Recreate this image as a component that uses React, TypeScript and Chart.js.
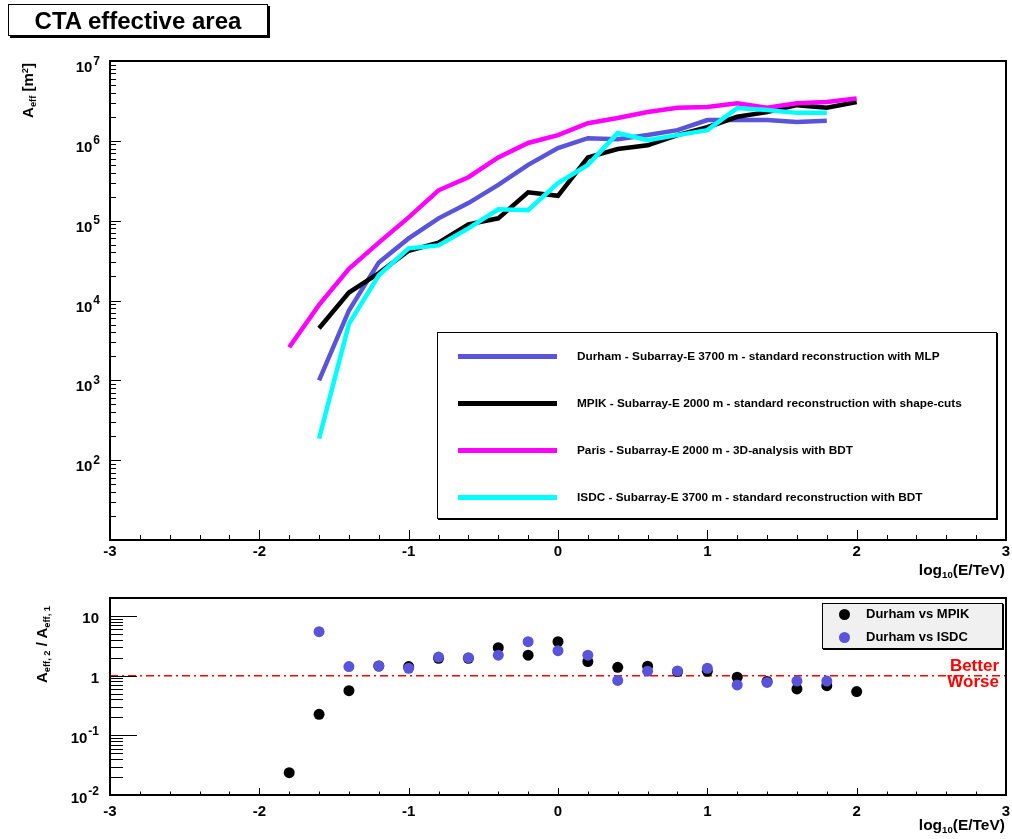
import React, { useEffect, useRef } from 'react';
import { Chart, registerables } from 'chart.js';

Chart.register(...registerables);

const FONT = '"Liberation Sans", Arial, Helvetica, sans-serif';
Chart.defaults.font.family = FONT;

// ---------- Top panel: effective area ----------
const durhamX = [-1.6, -1.4, -1.2, -1.0, -0.8, -0.6, -0.4, -0.2, 0, 0.2, 0.4, 0.6, 0.8, 1.0, 1.2, 1.4, 1.6, 1.8];
const durhamA = [1.0e3, 7.5e3, 3.0e4, 6.0e4, 1.07e5, 1.66e5, 2.8e5, 5.0e5, 8.1e5, 1.08e6, 1.05e6, 1.18e6, 1.36e6, 1.82e6, 1.82e6, 1.82e6, 1.72e6, 1.78e6];

const mpikX = [-1.6, -1.4, -1.2, -1.0, -0.8, -0.6, -0.4, -0.2, 0, 0.2, 0.4, 0.6, 0.8, 1.0, 1.2, 1.4, 1.6, 1.8, 2.0];
const mpikA = [4.5e3, 1.26e4, 2.2e4, 4.2e4, 5.3e4, 9.0e4, 1.07e5, 2.27e5, 2.05e5, 6.2e5, 7.9e5, 8.8e5, 1.18e6, 1.48e6, 2.0e6, 2.29e6, 2.8e6, 2.6e6, 3.06e6];

const parisX = [-1.8, -1.6, -1.4, -1.2, -1.0, -0.8, -0.6, -0.4, -0.2, 0, 0.2, 0.4, 0.6, 0.8, 1.0, 1.2, 1.4, 1.6, 1.8, 2.0];
const parisA = [2.6e3, 8.8e3, 2.5e4, 5.3e4, 1.1e5, 2.4e5, 3.5e5, 6.2e5, 9.4e5, 1.18e6, 1.66e6, 1.93e6, 2.3e6, 2.6e6, 2.65e6, 2.96e6, 2.6e6, 2.96e6, 3.06e6, 3.4e6];

const isdcX = [-1.6, -1.4, -1.2, -1.0, -0.8, -0.6, -0.4, -0.2, 0, 0.2, 0.4, 0.6, 0.8, 1.0, 1.2, 1.4, 1.6, 1.8];
const isdcA = [1.86e2, 5.1e3, 2.07e4, 4.5e4, 4.9e4, 8.0e4, 1.39e5, 1.35e5, 2.95e5, 5.0e5, 1.25e6, 1.02e6, 1.18e6, 1.36e6, 2.57e6, 2.43e6, 2.24e6, 2.24e6];

const seriesLabels = [
  'Durham - Subarray-E 3700 m - standard reconstruction with MLP',
  'MPIK - Subarray-E 2000 m - standard reconstruction with shape-cuts',
  'Paris - Subarray-E 2000 m - 3D-analysis with BDT',
  'ISDC - Subarray-E 3700 m - standard reconstruction with BDT',
];
const seriesColors = ['rgb(89,84,217)', '#000000', '#ff00ff', '#00ffff'];

// ---------- Bottom panel: ratios ----------
const ratioMpikX = [-1.8, -1.6, -1.4, -1.2, -1.0, -0.8, -0.6, -0.4, -0.2, 0, 0.2, 0.4, 0.6, 0.8, 1.0, 1.2, 1.4, 1.6, 1.8, 2.0];
const ratioMpik = [0.0237, 0.225, 0.56, 1.45, 1.42, 1.95, 1.95, 2.94, 2.2, 3.7, 1.72, 1.38, 1.44, 1.17, 1.18, 0.94, 0.8, 0.6, 0.68, 0.54];
const ratioIsdcX = [-1.6, -1.4, -1.2, -1.0, -0.8, -0.6, -0.4, -0.2, 0, 0.2, 0.4, 0.6, 0.8, 1.0, 1.2, 1.4, 1.6, 1.8];
const ratioIsdc = [5.45, 1.42, 1.45, 1.33, 2.05, 2.0, 2.2, 3.7, 2.62, 2.2, 0.83, 1.19, 1.2, 1.33, 0.7, 0.77, 0.81, 0.81];
const ratioLabels = ['Durham vs MPIK', 'Durham vs ISDC'];
const ratioColors = ['#000000', 'rgb(89,84,217)'];
const refLineX = [-3, 3];
const refLineY = [1, 1];

// ---------- Axis ticks ----------
const xTicks = [-3, -2, -1, 0, 1, 2, 3];
const topYTicks = [1e2, 1e3, 1e4, 1e5, 1e6, 1e7];
const topYTickLabels = ['10²', '10³', '10⁴', '10⁵', '10⁶', '10⁷'];
const bottomYTicks = [0.01, 0.1, 1, 10];
const bottomYTickLabels = ['10⁻²', '10⁻¹', '1', '10'];

const pts = (xs: number[], ys: number[]) => xs.map((x, i) => ({ x, y: ys[i] }));

const SUP: Record<string, string> = { '⁰': '0', '¹': '1', '²': '2', '³': '3', '⁴': '4', '⁵': '5', '⁶': '6', '⁷': '7', '⁸': '8', '⁹': '9', '⁻': '-' };

function framePlugin(cfg: {
  xMaj: number; xMin: number; yMaj: number; yMin: number; dMin: number; dMax: number;
  labelDy: number; labelRight: number;
}) {
  return {
    id: 'rootFrame',
    afterDraw(chart: any) {
      const { ctx, chartArea: a } = chart;
      const xs = chart.scales.x;
      const ys = chart.scales.y;
      ctx.save();
      ctx.strokeStyle = '#000';
      ctx.lineWidth = 1;
      ctx.beginPath();
      for (let i = 0; i <= 30; i++) {
        const v = -3 + i * 0.2;
        const isMaj = i % 5 === 0;
        const px = Math.round(xs.getPixelForValue(v)) + 0.5;
        ctx.moveTo(px, a.bottom);
        ctx.lineTo(px, a.bottom - (isMaj ? cfg.xMaj : cfg.xMin));
      }
      for (let d = cfg.dMin; d <= cfg.dMax; d++) {
        for (let k = 1; k <= 9; k++) {
          const v = k * Math.pow(10, d);
          if (v < ys.min * 0.999 || v > ys.max * 1.001) continue;
          const py = Math.round(ys.getPixelForValue(v)) + 0.5;
          ctx.moveTo(a.left, py);
          ctx.lineTo(a.left + (k === 1 ? cfg.yMaj : cfg.yMin), py);
        }
      }
      ctx.stroke();
      ctx.lineWidth = 2;
      ctx.strokeRect(a.left, a.top, a.right - a.left, a.bottom - a.top);

      // y tick labels (from the scale's own ticks), drawn with raised exponents
      ctx.fillStyle = '#000';
      ctx.textBaseline = 'alphabetic';
      ctx.textAlign = 'left';
      const baseFont = `bold 15px ${FONT}`;
      const expFont = `bold 12px ${FONT}`;
      for (const t of ys.ticks) {
        const label = String(t.label ?? '');
        if (!label) continue;
        let base = '';
        let exp = '';
        for (const ch of label) {
          if (SUP[ch] !== undefined) exp += SUP[ch];
          else base += ch;
        }
        const py = ys.getPixelForValue(t.value);
        const baseline = py + cfg.labelDy;
        ctx.font = baseFont;
        const wb = ctx.measureText(base).width;
        ctx.font = expFont;
        const we = exp ? ctx.measureText(exp).width + 1 : 0;
        const x0 = cfg.labelRight - wb - we;
        ctx.font = baseFont;
        ctx.fillText(base, x0, baseline);
        if (exp) {
          ctx.font = expFont;
          ctx.fillText(exp, x0 + wb + 1, baseline - 7.5);
        }
      }
      ctx.restore();
    },
  };
}

const tickFont = { size: 15, weight: 'bold' as const, family: FONT };

function TopChart() {
  const ref = useRef<HTMLCanvasElement | null>(null);
  useEffect(() => {
    if (!ref.current) return;
    const line = (i: number, xs: number[], ys: number[], order: number) => ({
      label: seriesLabels[i],
      data: pts(xs, ys),
      borderColor: seriesColors[i],
      backgroundColor: seriesColors[i],
      borderWidth: 4.5,
      pointRadius: 0,
      tension: 0,
      fill: false,
      order,
    });
    const chart = new Chart(ref.current, {
      type: 'line',
      data: {
        datasets: [
          line(3, isdcX, isdcA, 0),
          line(2, parisX, parisA, 1),
          line(1, mpikX, mpikA, 2),
          line(0, durhamX, durhamA, 3),
        ],
      },
      options: {
        responsive: false,
        animation: false,
        events: [],
        layout: { padding: { top: 61, right: 6, left: 0, bottom: 0 } },
        plugins: { legend: { display: false }, tooltip: { enabled: false } },
        scales: {
          x: {
            type: 'linear',
            min: -3,
            max: 3,
            afterBuildTicks: (s: any) => { s.ticks = xTicks.map((v) => ({ value: v })); },
            afterFit: (s: any) => { s.height = 40; s.paddingLeft = 0; s.paddingRight = 0; },
            grid: { display: false, drawTicks: false },
            border: { display: false },
            ticks: { font: tickFont, color: '#000', padding: 3, maxRotation: 0, autoSkip: false, callback: (v: any) => String(v) },
          },
          y: {
            type: 'logarithmic',
            min: 10,
            max: 1e7,
            afterBuildTicks: (s: any) => { s.ticks = topYTicks.map((v) => ({ value: v })); },
            afterFit: (s: any) => { s.width = 110; s.paddingTop = 0; s.paddingBottom = 0; },
            grid: { display: false, drawTicks: false },
            border: { display: false },
            ticks: {
              display: false,
              font: tickFont,
              color: '#000',
              padding: 10,
              autoSkip: false,
              callback: (v: any) => topYTickLabels[topYTicks.indexOf(Number(v))] ?? '',
            },
          },
        },
      } as any,
      plugins: [framePlugin({ xMaj: 10, xMin: 5, yMaj: 11, yMin: 6, dMin: 1, dMax: 6, labelDy: 11, labelRight: 100 })],
    });
    return () => chart.destroy();
  }, []);
  return <canvas ref={ref} width={1012} height={580} style={{ position: 'absolute', left: 0, top: 0 }} />;
}

function BottomChart() {
  const ref = useRef<HTMLCanvasElement | null>(null);
  useEffect(() => {
    if (!ref.current) return;
    const chart = new Chart(ref.current, {
      type: 'line',
      data: {
        datasets: [
          {
            label: ratioLabels[1],
            data: pts(ratioIsdcX, ratioIsdc),
            showLine: false,
            pointRadius: 5.5,
            pointBorderWidth: 0,
            pointBackgroundColor: ratioColors[1],
            borderColor: ratioColors[1],
            order: 0,
          },
          {
            label: ratioLabels[0],
            data: pts(ratioMpikX, ratioMpik),
            showLine: false,
            pointRadius: 5.5,
            pointBorderWidth: 0,
            pointBackgroundColor: ratioColors[0],
            borderColor: ratioColors[0],
            order: 1,
          },
          {
            label: 'ratio = 1',
            data: pts(refLineX, refLineY),
            borderColor: '#ff0000',
            borderWidth: 1.5,
            borderDash: [8, 4, 2, 4],
            pointRadius: 0,
            order: 2,
          },
        ],
      },
      options: {
        responsive: false,
        animation: false,
        events: [],
        layout: { padding: { top: 8, right: 6, left: 0, bottom: 0 } },
        plugins: { legend: { display: false }, tooltip: { enabled: false } },
        scales: {
          x: {
            type: 'linear',
            min: -3,
            max: 3,
            afterBuildTicks: (s: any) => { s.ticks = xTicks.map((v) => ({ value: v })); },
            afterFit: (s: any) => { s.height = 44; s.paddingLeft = 0; s.paddingRight = 0; },
            grid: { display: false, drawTicks: false },
            border: { display: false },
            ticks: { font: tickFont, color: '#000', padding: 8, maxRotation: 0, autoSkip: false, callback: (v: any) => String(v) },
          },
          y: {
            type: 'logarithmic',
            min: 0.01,
            max: 20,
            afterBuildTicks: (s: any) => { s.ticks = bottomYTicks.map((v) => ({ value: v })); },
            afterFit: (s: any) => { s.width = 110; s.paddingTop = 0; s.paddingBottom = 0; },
            grid: { display: false, drawTicks: false },
            border: { display: false },
            ticks: {
              display: false,
              font: tickFont,
              color: '#000',
              padding: 10,
              autoSkip: false,
              callback: (v: any) => bottomYTickLabels[bottomYTicks.indexOf(Number(v))] ?? '',
            },
          },
        },
      } as any,
      plugins: [framePlugin({ xMaj: 7, xMin: 3.5, yMaj: 27, yMin: 13, dMin: -2, dMax: 1, labelDy: 7.5, labelRight: 99 })],
    });
    return () => chart.destroy();
  }, []);
  return <canvas ref={ref} width={1012} height={249} style={{ position: 'absolute', left: 0, top: 590 }} />;
}

const subStyle: React.CSSProperties = { fontSize: '0.62em', verticalAlign: '-0.35em', lineHeight: 0 };
const supStyle: React.CSSProperties = { fontSize: '0.62em', verticalAlign: '0.55em', lineHeight: 0 };

function RotTitle({ x, yEnd, children }: { x: number; yEnd: number; children: React.ReactNode }) {
  const W = 200;
  return (
    <div
      style={{
        position: 'absolute',
        left: x,
        top: yEnd + W,
        width: W,
        textAlign: 'right',
        transform: 'rotate(-90deg)',
        transformOrigin: '0 0',
        whiteSpace: 'nowrap',
        fontSize: 15,
        fontWeight: 'bold',
        lineHeight: '15px',
        fontFamily: FONT,
      }}
    >
      {children}
    </div>
  );
}

function XTitle({ top }: { top: number }) {
  return (
    <div
      style={{
        position: 'absolute',
        left: 805,
        width: 200,
        top,
        textAlign: 'right',
        fontSize: 15.5,
        fontWeight: 'bold',
        lineHeight: '15px',
        whiteSpace: 'nowrap',
        fontFamily: FONT,
      }}
    >
      log<span style={subStyle}>10</span>(E/TeV)
    </div>
  );
}

export default function App() {
  const legendRows = [356, 403, 450, 497];
  return (
    <div style={{ position: 'absolute', left: 0, top: 0, width: 1012, height: 839, background: '#fff', fontFamily: FONT, color: '#000' }}>
      <TopChart />
      <BottomChart />

      {/* Title box */}
      <div
        style={{
          position: 'absolute',
          left: 8,
          top: 4,
          width: 258,
          height: 30,
          border: '1px solid #000',
          boxShadow: '2px 2px 0 #000',
          textAlign: 'center',
          lineHeight: '31px',
          fontSize: 24,
          fontWeight: 'bold',
          background: '#fff',
        }}
      >
        CTA effective area
      </div>

      {/* Axis titles */}
      <RotTitle x={20} yEnd={63}>
        A<span style={subStyle}>eff</span> [m<span style={supStyle}>2</span>]
      </RotTitle>
      <XTitle top={562} />
      <RotTitle x={34} yEnd={606}>
        A<span style={subStyle}>eff, 2</span> / A<span style={subStyle}>eff, 1</span>
      </RotTitle>
      <XTitle top={817} />

      {/* Top legend */}
      <div
        style={{
          position: 'absolute',
          left: 437,
          top: 332,
          width: 560,
          height: 187,
          boxSizing: 'border-box',
          border: '1px solid #000',
          boxShadow: '1px 1px 0 #000',
          background: '#fff',
        }}
      />
      {seriesLabels.map((lab, i) => (
        <React.Fragment key={lab}>
          <div style={{ position: 'absolute', left: 458, top: legendRows[i] - 2.5, width: 99, height: 5, background: seriesColors[i] }} />
          <div
            style={{
              position: 'absolute',
              left: 577,
              top: legendRows[i] - 7,
              lineHeight: '14px',
              fontSize: 11.8,
              fontWeight: 'bold',
              whiteSpace: 'nowrap',
            }}
          >
            {lab}
          </div>
        </React.Fragment>
      ))}

      {/* Bottom legend */}
      <div
        style={{
          position: 'absolute',
          left: 822,
          top: 603,
          width: 181,
          height: 46,
          boxSizing: 'border-box',
          border: '1px solid #000',
          boxShadow: '1px 1px 0 #000',
          background: '#f0f0f0',
        }}
      />
      {ratioLabels.map((lab, i) => (
        <React.Fragment key={lab}>
          <div
            style={{
              position: 'absolute',
              left: 844 - 5.5,
              top: (i === 0 ? 614 : 637) - 5.5,
              width: 11,
              height: 11,
              borderRadius: '50%',
              background: ratioColors[i],
            }}
          />
          <div
            style={{
              position: 'absolute',
              left: 866,
              top: (i === 0 ? 614 : 637) - 8,
              lineHeight: '16px',
              fontSize: 13,
              fontWeight: 'bold',
              whiteSpace: 'nowrap',
            }}
          >
            {lab}
          </div>
        </React.Fragment>
      ))}

      {/* Better / Worse */}
      <div
        style={{
          position: 'absolute',
          left: 900,
          width: 99,
          top: 658,
          textAlign: 'right',
          color: '#ff0000',
          fontSize: 17,
          fontWeight: 'bold',
          lineHeight: '16px',
        }}
      >
        Better
        <br />
        Worse
      </div>
    </div>
  );
}
